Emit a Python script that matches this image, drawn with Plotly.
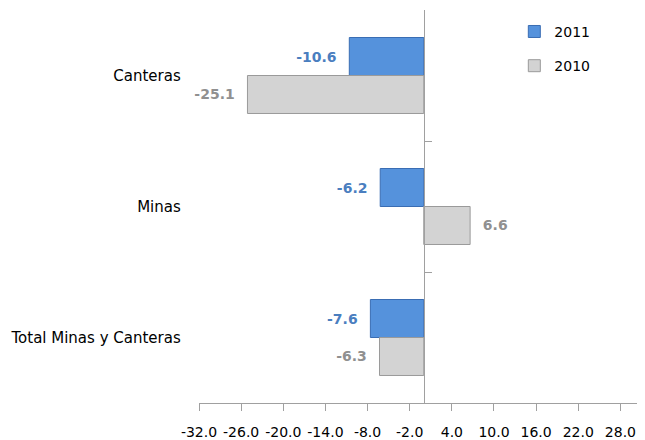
import plotly.graph_objects as go

categories = ["Canteras", "Minas", "Total Minas y Canteras"]
series_names = ["2011", "2010"]
values_2011 = [-10.6, -6.2, -7.6]
values_2010 = [-25.1, 6.6, -6.3]
tick_values = [-32, -26, -20, -14, -8, -2, 4, 10, 16, 22, 28]
tick_labels = [f"{v:.1f}" for v in tick_values]

X_MIN, X_MAX = -32, 31.5
zero_frac = (0 - X_MIN) / (X_MAX - X_MIN)

NB = "\u00a0"


def labels(vals):
    out = []
    for v in vals:
        s = f"{v:.1f}"
        out.append(NB * 2 + s + NB * 2)
    return out


fig = go.Figure()
fig.add_trace(go.Bar(
    y=categories, x=values_2011, orientation="h", name=series_names[0],
    legendgroup="a",
    marker=dict(color="#5592dc", line=dict(color="#3a6db3", width=1)),
    text=labels(values_2011), textposition="outside", cliponaxis=False,
    textfont=dict(family="DejaVu Sans", size=14, color="#4a7ebf", weight="bold"),
))
fig.add_trace(go.Bar(
    y=categories, x=values_2010, orientation="h", name=series_names[1],
    legendgroup="b",
    marker=dict(color="#d3d3d3", line=dict(color="#9a9a9a", width=1)),
    text=labels(values_2010), textposition="outside", cliponaxis=False,
    textfont=dict(family="DejaVu Sans", size=14, color="#909090", weight="bold"),
))

fig.update_layout(
    width=637, height=432,
    margin=dict(l=191, r=0, t=2, b=37, autoexpand=False),
    paper_bgcolor="white", plot_bgcolor="white",
    barmode="group", bargap=0.42, bargroupgap=0,
    font=dict(family="DejaVu Sans", size=14, color="#000000"),
    showlegend=True,
    legend=dict(
        x=0.707, y=0.985, xanchor="left", yanchor="top",
        traceorder="grouped", tracegroupgap=13,
        font=dict(family="DejaVu Sans", size=14, color="#000000"),
        itemwidth=30, bgcolor="rgba(0,0,0,0)",
    ),
    xaxis=dict(
        range=[X_MIN, X_MAX], tickmode="array",
        tickvals=tick_values, ticktext=tick_labels,
        showgrid=False, zeroline=False,
        showline=True, linecolor="#a0a0a0", linewidth=1,
        ticks="outside", ticklen=7, tickcolor="#a0a0a0",
        ticklabelstandoff=9,
        tickfont=dict(family="DejaVu Sans", size=14, color="#000000"),
        fixedrange=True,
    ),
    yaxis=dict(
        autorange="reversed", anchor="free", position=zero_frac,
        showgrid=False, zeroline=False,
        showline=True, linecolor="#a0a0a0", linewidth=1,
        ticks="inside", ticklen=7, tickcolor="#a0a0a0", tickson="boundaries",
        ticklabelstandoff=240,
        tickfont=dict(family="DejaVu Sans", size=15, color="#000000"),
        automargin=False, fixedrange=True,
    ),
)

fig.write_html("out.html")
